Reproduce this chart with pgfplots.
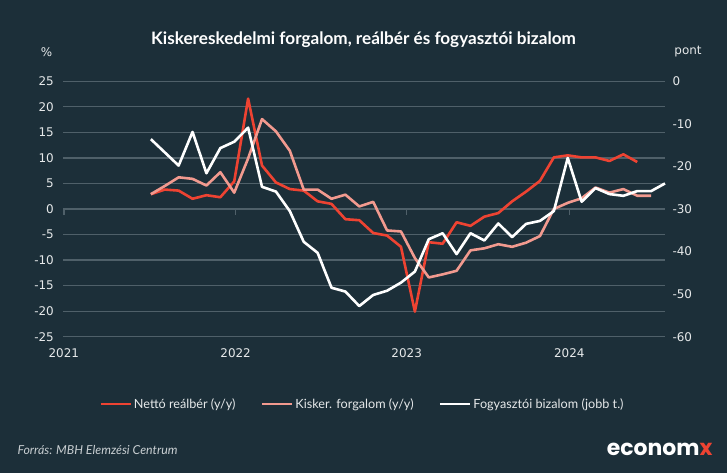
\documentclass[border=0pt]{standalone}
\usepackage{pgfplots}
\pgfplotsset{compat=1.18}
\usepackage{pgfplotstable}
\usepackage{fontspec}
\setmainfont{Lato}
\newfontfamily\tickfont{DejaVu Sans}
\newfontfamily\logofont{Poppins}
\definecolor{bg}{HTML}{1C2F39}
\definecolor{gridc}{HTML}{4F6069}
\definecolor{redc}{HTML}{EE4332}
\definecolor{pinkc}{HTML}{F29A8F}
\definecolor{labelc}{HTML}{E6E9EA}
\definecolor{footc}{HTML}{C9CFD2}

\pgfplotstableread{
m red pink
6 2.9 2.9
7 3.8 4.5
8 3.6 6.2
9 2.0 5.9
10 2.7 4.6
11 2.3 7.2
12 5.4 3.2
13 21.6 9.9
14 8.5 17.6
15 5.2 15.2
16 3.9 11.4
17 3.6 3.8
18 1.5 3.8
19 1.0 2.0
20 -2.0 2.8
21 -2.2 0.5
22 -4.7 1.4
23 -5.2 -4.2
24 -7.4 -4.4
25 -20.1 -9.6
26 -6.5 -13.4
27 -6.8 -12.8
28 -2.6 -12.1
29 -3.3 -8.1
30 -1.5 -7.7
31 -0.8 -6.9
32 1.5 -7.4
33 3.4 -6.6
34 5.5 -5.3
35 10.1 0.0
36 10.5 1.2
37 10.1 2.1
38 10.1 4.2
39 9.4 3.2
40 10.7 3.9
41 9.2 2.6
42 nan 2.6
}\leftdata

\pgfplotstableread{
m conf
6 -13.6
7 -16.7
8 -19.8
9 -11.9
10 -21.6
11 -15.7
12 -14.2
13 -10.9
14 -24.8
15 -25.9
16 -30.5
17 -37.7
18 -40.3
19 -48.5
20 -49.4
21 -52.8
22 -50.2
23 -49.2
24 -47.3
25 -44.7
26 -37.1
27 -35.7
28 -40.6
29 -35.7
30 -37.4
31 -33.4
32 -36.6
33 -33.5
34 -32.8
35 -30.5
36 -18.0
37 -28.3
38 -25.1
39 -26.5
40 -26.9
41 -25.8
42 -25.8
43 -24.0
}\rightdata

\pgfplotsset{
  base/.style={
    at={(63.3bp,136.3bp)}, anchor=south west,
    width=601.7bp, height=255.4bp, scale only axis,
    xmin=-0.3, xmax=43, clip=false,
    axis line style={draw=none},
    major tick length=0pt,
    tick label style={font=\tickfont\fontsize{12}{14}\selectfont, text=labelc},
  }
}

\begin{document}
\begin{tikzpicture}[x=1bp,y=1bp]
\fill[bg] (0,0) rectangle (727,473);
\node[font=\bfseries\fontsize{17.2}{20}\selectfont, text=white] at (363.5,433) {Kiskereskedelmi forgalom, reálbér és fogyasztói bizalom};
\node[font=\tickfont\fontsize{12}{14}\selectfont, text=labelc] at (46.5,421) {\%};
\node[font=\tickfont\fontsize{12}{14}\selectfont, text=labelc] at (688,421) {pont};

\begin{axis}[base,
  ymin=-25, ymax=25,
  ytick={-25,-20,...,25}, yticklabels={-25,-20,-15,-10,-5,0,5,10,15,20,25},
  ymajorgrids, grid style={gridc, line width=1.3bp},
  xtick={-0.26,12.10,24.41,36.11}, xticklabels={2021,2022,2023,2024},
  yticklabel style={xshift=-6bp},
  xticklabel style={yshift=-8bp},
  legend columns=3,
  legend style={at={(0.497,-0.2635)}, anchor=center, draw=none, fill=none,
    text=labelc, font=\fontsize{12.7}{14}\selectfont,
    /tikz/every even column/.append style={column sep=23bp}},
  legend image code/.code={\draw[#1, line width=2.8bp] (0bp,0bp) -- (30bp,0bp);},
]
\addplot[redc, line width=2.6bp, line join=round] table[x=m,y=red]{\leftdata};
\addlegendentry{Nettó reálbér (y/y)}
\addplot[pinkc, line width=2.6bp, line join=round] table[x=m,y=pink]{\leftdata};
\addlegendentry{Kisker. forgalom (y/y)}
\addlegendimage{white, line width=2.6bp}
\addlegendentry{Fogyasztói bizalom (jobb t.)}
\end{axis}

\begin{axis}[base,
  ymin=-25, ymax=25,
  axis y line=none, axis x line*=middle,
  xtick={-0.26,12.10,24.41,36.11}, xticklabels={},
  major tick length=6bp, xtick align=outside,
  xtick style={gridc, line width=1.3bp},
]
\end{axis}

\begin{axis}[base,
  ymin=-60, ymax=0,
  axis x line=none, axis y line*=right,
  ytick={-60,-50,...,0}, yticklabels={-60,-50,-40,-30,-20,-10,0},
  yticklabel style={xshift=4bp},
]
\addplot[white, line width=2.6bp, line join=round] table[x=m,y=conf]{\rightdata};
\end{axis}

\node[anchor=west, font=\itshape\fontsize{12.4}{14}\selectfont, text=footc] at (14,23) {Forrás: MBH Elemzési Centrum};
\node[anchor=east, font=\logofont\bfseries\fontsize{22}{24}\selectfont, inner sep=0pt] at (712.6,24) {\textcolor{white}{econom}\textcolor{redc}{x}};
\end{tikzpicture}
\end{document}
